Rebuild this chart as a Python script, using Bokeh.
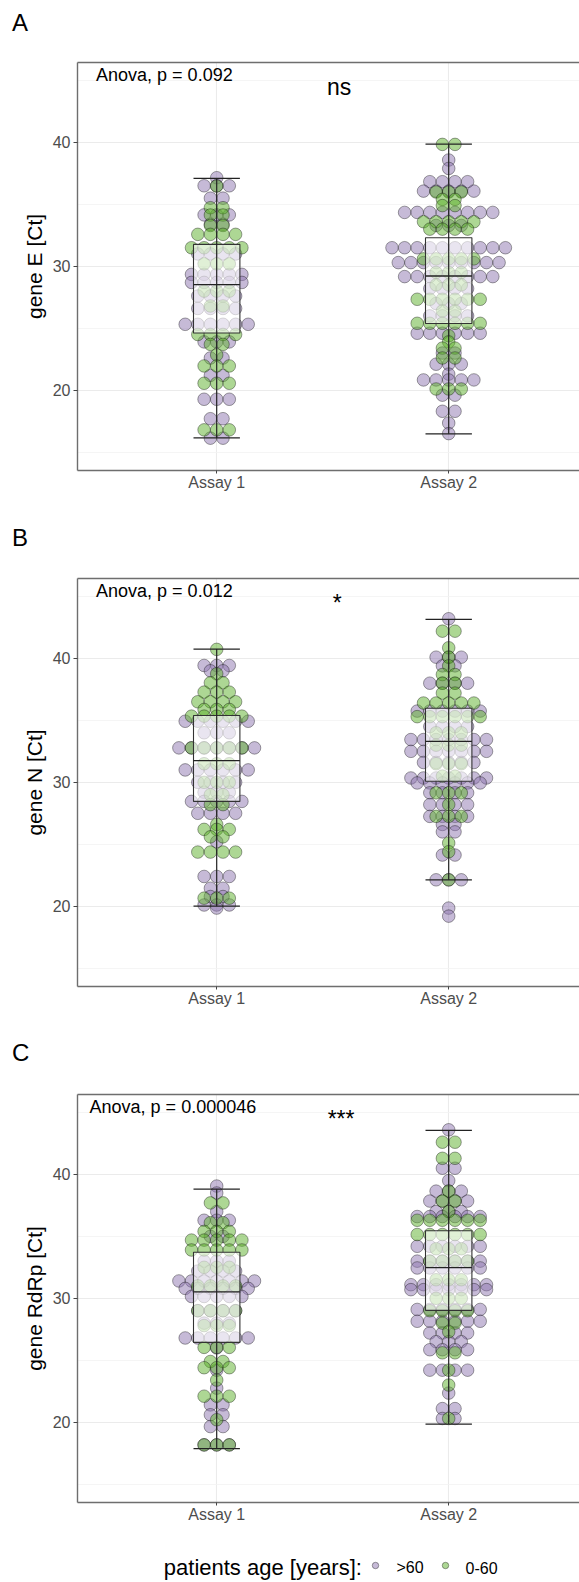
from bokeh.plotting import figure
from bokeh.layouts import column
from bokeh.models import (Range1d, FixedTicker, LinearAxis, Label, ColumnDataSource, Div)
from bokeh.embed import file_html
from bokeh.resources import INLINE

# ---------------- data ----------------
categories = ["Assay 1", "Assay 2"]
age_groups = [">60", "0-60"]

# gene E : dot bins (Ct value of bin, number of dots)
E_a1_old_ct = [37.15, 36.5, 35.5, 34.15, 33.4, 31.0, 29.35, 28.7, 27.6, 26.6, 25.32, 23.9, 22.6, 21.2, 19.27, 17.7, 16.13]
E_a1_old_n = [1, 3, 2, 3, 2, 4, 5, 5, 4, 4, 6, 3, 2, 2, 3, 2, 2]
E_a1_young_ct = [36.48, 34.73, 34.14, 33.3, 32.58, 31.5, 30.2, 28.0, 26.8, 24.5, 23.7, 22.85, 21.96, 20.56, 16.8]
E_a1_young_n = [1, 2, 2, 2, 4, 5, 3, 3, 2, 4, 2, 1, 3, 3, 3]
E_a2_old_ct = [38.58, 37.9, 36.83, 36.07, 34.35, 33.3, 31.5, 30.3, 29.17, 28.2, 27.0, 26.0, 24.6, 23.0, 22.1, 21.3, 20.83, 19.6, 18.3, 17.35, 16.5]
E_a2_old_n = [1, 1, 4, 5, 8, 3, 10, 9, 8, 4, 3, 4, 6, 2, 3, 1, 5, 2, 2, 1, 1]
E_a2_young_ct = [39.84, 36.0, 35.4, 34.9, 33.6, 33.0, 30.6, 29.5, 28.5, 27.34, 26.4, 25.4, 24.4, 23.9, 23.4, 22.6, 20.1]
E_a2_young_n = [2, 3, 2, 2, 5, 4, 5, 3, 3, 6, 2, 6, 1, 1, 2, 2, 3]

# gene N
N_a1_old_ct = [39.43, 39.0, 34.93, 34.0, 32.78, 31.0, 30.0, 29.2, 28.46, 27.5, 25.2, 22.4, 21.45, 20.78, 20.1, 19.85]
N_a1_old_n = [3, 2, 6, 3, 7, 6, 4, 3, 5, 4, 1, 3, 2, 2, 3, 1]
N_a1_young_ct = [40.73, 38.76, 38.03, 37.28, 36.5, 35.88, 35.34, 32.78, 31.5, 30.0, 29.0, 28.2, 26.6, 26.2, 25.6, 24.37, 20.65]
N_a1_young_n = [1, 1, 2, 3, 4, 3, 5, 5, 3, 3, 2, 2, 1, 3, 2, 4, 3]
N_a2_old_ct = [43.2, 40.1, 39.4, 38.0, 35.75, 34.5, 33.45, 32.5, 31.6, 30.35, 29.95, 29.15, 28.2, 27.25, 26.6, 26.0, 24.13, 22.13, 19.85, 19.2]
N_a2_old_n = [1, 3, 2, 4, 6, 4, 7, 7, 5, 7, 6, 4, 4, 4, 2, 2, 2, 3, 1, 1]
N_a2_young_ct = [42.2, 40.86, 40.1, 39.4, 38.7, 38.0, 37.2, 36.4, 35.3, 34.0, 33.0, 31.5, 30.5, 29.15, 28.2, 27.25, 25.1, 24.4, 22.13]
N_a2_young_n = [2, 1, 1, 1, 2, 2, 2, 5, 6, 3, 3, 3, 2, 3, 1, 3, 1, 1, 1]

# gene RdRp
R_a1_old_ct = [39.06, 38.5, 37.0, 36.3, 35.0, 33.0, 32.2, 31.4, 30.8, 30.15, 29.0, 28.0, 26.8, 26.0, 24.2, 22.75, 21.4, 20.6, 19.65, 18.17]
R_a1_old_n = [1, 1, 1, 3, 2, 3, 4, 7, 6, 5, 4, 3, 6, 1, 1, 1, 2, 2, 2, 3]
R_a1_young_ct = [37.7, 36.1, 35.4, 34.7, 33.9, 32.5, 31.0, 29.0, 27.8, 26.04, 24.9, 24.4, 23.4, 22.1, 20.2, 18.17]
R_a1_young_n = [2, 2, 3, 5, 5, 3, 4, 4, 3, 3, 2, 3, 1, 3, 1, 3]
R_a2_old_ct = [43.6, 40.5, 39.5, 38.65, 37.85, 37.0, 36.6, 34.2, 33.0, 32.45, 31.1, 30.7, 29.1, 28.15, 27.2, 26.5, 25.85, 24.2, 22.35, 21.1, 20.3]
R_a2_old_n = [1, 2, 1, 3, 4, 3, 6, 6, 6, 6, 7, 7, 6, 6, 4, 3, 4, 4, 1, 2, 2]
R_a2_young_ct = [42.6, 41.3, 38.65, 37.85, 37.0, 36.3, 35.15, 34.0, 33.0, 31.5, 30.0, 29.0, 28.0, 27.3, 25.6, 24.2, 23.0, 20.3]
R_a2_young_n = [2, 2, 1, 2, 1, 6, 6, 3, 4, 3, 3, 4, 2, 1, 2, 1, 1, 1]

# box statistics per assay: lower whisker, q1, median, q3, upper whisker
E_lower = [16.15, 16.48]
E_q1 = [24.62, 25.38]
E_median = [28.52, 29.22]
E_q3 = [31.77, 32.3]
E_upper = [37.1, 39.86]

N_lower = [20.0, 22.13]
N_q1 = [28.46, 30.08]
N_median = [31.75, 33.3]
N_q3 = [35.39, 35.98]
N_upper = [40.75, 43.15]

R_lower = [17.87, 19.85]
R_q1 = [26.44, 29.03]
R_median = [30.52, 32.48]
R_q3 = [33.72, 35.45]
R_upper = [38.81, 43.56]

panel_letters = ["A", "B", "C"]
y_labels = ["gene E [Ct]", "gene N [Ct]", "gene RdRp [Ct]"]
anova_texts = ["Anova, p = 0.092", "Anova, p = 0.012", "Anova, p = 0.000046"]
sig_texts = ["ns", "*", "***"]
legend_title = "patients age [years]:"

# ---------------- styling / layout ----------------
FONT = "Liberation Sans"
PURPLE = "#8E75B0"
GREEN = "#5BB02A"
W = 579
BORDER_L = 77
X0 = 0.4
PX_PER_X = 232.0
X1 = X0 + (W - BORDER_L) / PX_PER_X
Y0, Y1 = 13.52, 46.45
FRAME_H = 408
DOT_PX = 12.6
BOX_HALF = 0.1


def stack(cts, ns, xc):
    xs, ys = [], []
    for ct, n in zip(cts, ns):
        for i in range(n):
            xs.append(xc + (i - (n - 1) / 2.0) * DOT_PX / PX_PER_X)
            ys.append(ct)
    return xs, ys


def header(idx, height, top_px):
    html = ('<div style="position:relative; left:12px; top:%.1fpx; margin:0; padding:0; '
            'font-family:\'Liberation Sans\'; font-size:24px; line-height:24px; color:black;">%s</div>'
            % (top_px, panel_letters[idx]))
    return Div(text=html, width=W, height=height, margin=0)


def make_panel(idx, groups, stats, anova_x, sig_x, bottom=54):
    height = 10 + FRAME_H + bottom
    p = figure(width=W, height=height, x_range=Range1d(X0, X1), y_range=Range1d(Y0, Y1),
               output_backend="svg", toolbar_location=None, title=None,
               min_border_left=BORDER_L, min_border_right=0, min_border_top=10,
               min_border_bottom=bottom, outline_line_color=None,
               background_fill_color="white", border_fill_color="white")

    p.xaxis.ticker = FixedTicker(ticks=[1, 2])
    p.xaxis.major_label_overrides = {1: categories[0], 2: categories[1]}
    p.yaxis.ticker = FixedTicker(ticks=[20, 30, 40], minor_ticks=[15, 25, 35, 45])
    p.xgrid.grid_line_color = "#EBEBEB"
    p.xgrid.grid_line_width = 1.1
    p.ygrid.grid_line_color = "#EBEBEB"
    p.ygrid.grid_line_width = 1.1
    p.ygrid.minor_grid_line_color = "#F3F3F3"
    p.ygrid.minor_grid_line_width = 0.8

    for ax in (p.xaxis[0], p.yaxis[0]):
        ax.axis_line_color = "#6E6E6E"
        ax.axis_line_width = 1.4
        ax.major_tick_line_color = "#444444"
        ax.major_tick_out = 4
        ax.major_tick_in = 0
        ax.minor_tick_line_color = None
        ax.major_label_text_font = FONT
        ax.major_label_text_color = "#4D4D4D"
        ax.major_label_standoff = 3
    p.xaxis.major_label_text_font_size = "16px"
    p.yaxis.major_label_text_font_size = "16px"
    p.xaxis.major_tick_out = 3
    p.xaxis.major_label_standoff = 0
    p.yaxis.axis_label = y_labels[idx]
    p.yaxis.axis_label_text_font = FONT
    p.yaxis.axis_label_text_font_size = "21px"
    p.yaxis.axis_label_text_font_style = "normal"
    p.yaxis.axis_label_text_color = "black"
    p.yaxis.axis_label_standoff = 4

    top = LinearAxis(ticker=FixedTicker(ticks=[]), axis_line_color="#6E6E6E", axis_line_width=1.4,
                     major_tick_line_color=None, minor_tick_line_color=None,
                     major_tick_out=0, minor_tick_out=0, major_tick_in=0, minor_tick_in=0,
                     major_label_standoff=0, major_label_text_alpha=0)
    p.add_layout(top, "above")

    for g, color in zip(groups, (PURPLE, GREEN)):
        xs, ys = [], []
        for k, (cts, ns) in enumerate(g):
            a, b = stack(cts, ns, k + 1)
            xs += a
            ys += b
        src = ColumnDataSource(dict(x=xs, y=ys))
        p.scatter(x="x", y="y", source=src, size=DOT_PX, fill_color=color, fill_alpha=0.5,
                  line_color="black", line_alpha=0.45, line_width=0.8)

    lower, q1, med, q3, upper = stats
    xc = [1, 2]
    left = [x - BOX_HALF for x in xc]
    right = [x + BOX_HALF for x in xc]
    p.quad(left=left, right=right, bottom=q1, top=q3, fill_color="white", fill_alpha=0.62,
           line_color="#333333", line_width=1.1)
    p.segment(x0=left, x1=right, y0=med, y1=med, line_color="#222222", line_width=1.3)
    p.segment(x0=xc, x1=xc, y0=lower, y1=upper, line_color="#222222", line_width=1.2)
    p.segment(x0=left, x1=right, y0=lower, y1=lower, line_color="#222222", line_width=1.2)
    p.segment(x0=left, x1=right, y0=upper, y1=upper, line_color="#222222", line_width=1.2)

    p.add_layout(Label(x=anova_x, y=45.45, text=anova_texts[idx], text_font=FONT,
                       text_font_size="18px", text_color="black", text_baseline="alphabetic"))
    p.add_layout(Label(x=sig_x, y=44.5, text=sig_texts[idx], text_font=FONT,
                       text_font_size="23px", text_color="black", text_align="center",
                       text_baseline="alphabetic"))
    return p


def legend_fig(height):
    # frame of this figure is aligned with the panels' frames (left edge at BORDER_L)
    f = figure(width=W, height=height, x_range=Range1d(BORDER_L, W), y_range=Range1d(0, height),
               output_backend="svg", toolbar_location=None, title=None,
               x_axis_type=None, y_axis_type=None, min_border=0, min_border_left=BORDER_L,
               min_border_right=0, outline_line_color=None, background_fill_color="white",
               border_fill_color="white")
    f.add_layout(Label(x=163.3, y=15, text=legend_title, text_font=FONT, text_font_size="22px",
                       text_color="black", text_baseline="alphabetic"))
    key_x = [375, 445]
    key_text_x = [396, 465]
    f.scatter(x=key_x, y=[17, 17], size=6.5, fill_color=[PURPLE, GREEN], fill_alpha=0.5,
              line_color="black", line_alpha=0.45, line_width=0.8)
    for tx, lab in zip(key_text_x, age_groups):
        f.add_layout(Label(x=tx, y=15, text=lab, text_font=FONT, text_font_size="16px",
                           text_color="black", text_baseline="alphabetic"))
    return f


pA = make_panel(0, [[(E_a1_old_ct, E_a1_old_n), (E_a2_old_ct, E_a2_old_n)],
                    [(E_a1_young_ct, E_a1_young_n), (E_a2_young_ct, E_a2_young_n)]],
                (E_lower, E_q1, E_median, E_q3, E_upper), 0.48, 1.528)
pB = make_panel(1, [[(N_a1_old_ct, N_a1_old_n), (N_a2_old_ct, N_a2_old_n)],
                    [(N_a1_young_ct, N_a1_young_n), (N_a2_young_ct, N_a2_young_n)]],
                (N_lower, N_q1, N_median, N_q3, N_upper), 0.48, 1.52)
pC = make_panel(2, [[(R_a1_old_ct, R_a1_old_n), (R_a2_old_ct, R_a2_old_n)],
                    [(R_a1_young_ct, R_a1_young_n), (R_a2_young_ct, R_a2_young_n)]],
                (R_lower, R_q1, R_median, R_q3, R_upper), 0.452, 1.536, bottom=42)

layout = column(header(0, 52, 11.4), pA,
                header(1, 44, 2.4), pB,
                header(2, 44, 1.4), pC,
                legend_fig(38), spacing=0)
open("out.html", "w").write(file_html(layout, INLINE))
